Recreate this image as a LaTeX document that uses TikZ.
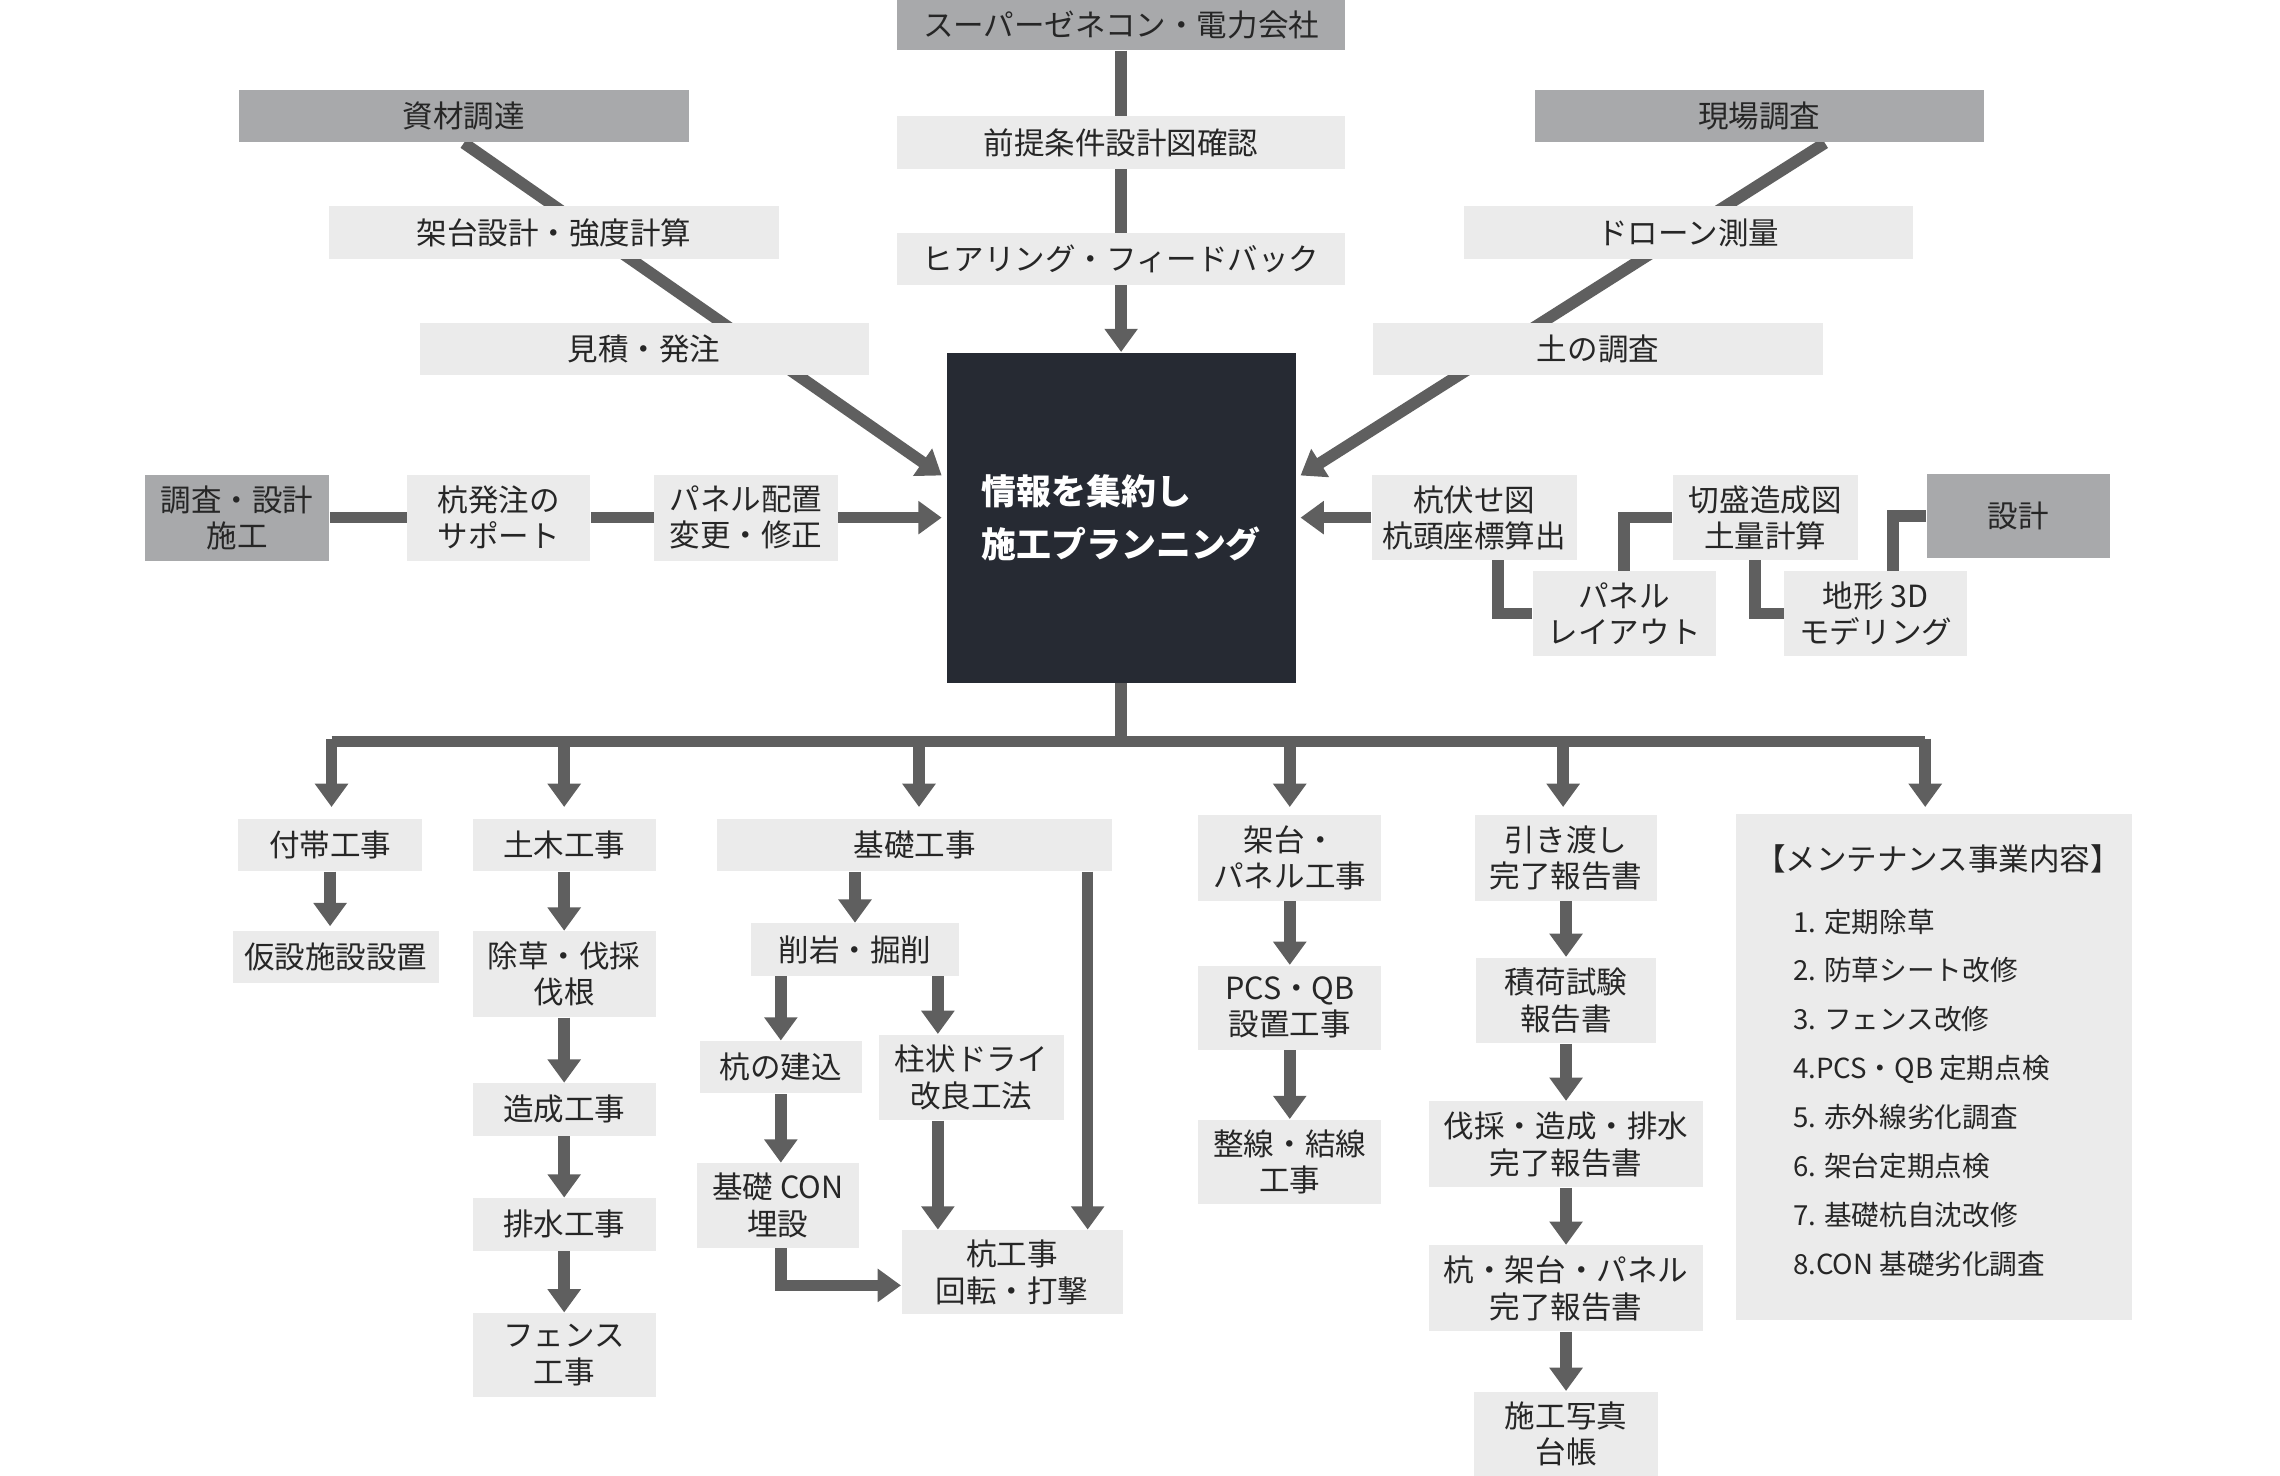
\documentclass[tikz,border=0pt]{standalone}
\usepackage{fontspec}
\setmainfont{Noto Sans CJK JP}
\usetikzlibrary{arrows.meta,calc,backgrounds}
\definecolor{dk}{HTML}{A8A9AB}
\definecolor{lt}{HTML}{EBEBEB}
\definecolor{ln}{HTML}{5F5F5F}
\definecolor{ctr}{HTML}{262A33}
\tikzset{
 bx/.style n args={2}{minimum width=#1*0.5pt,minimum height=#2*0.5pt,inner sep=0pt,align=center,font=\fontsize{10.5}{12.5}\selectfont,text=black!85},
 dbox/.style 2 args={bx={#1}{#2},fill=dk},
 lbox/.style 2 args={bx={#1}{#2},fill=lt},
 con/.style={draw=ln,line width=4pt},
 arr/.style={con,-{Triangle[length=8pt,width=11pt]}},
}
\begin{document}
\begin{tikzpicture}[x=0.5pt,y=-0.5pt]
\useasboundingbox (0,0) rectangle (1568,1015);
% top
\node[dbox={308}{35}] (sg) at (771,17) {スーパーゼネコン・電力会社};
\node[lbox={308}{36}] (zj) at (771,98) {前提条件設計図確認};
\node[lbox={308}{36}] (hr) at (771,178) {ヒアリング・フィードバック};
\node[dbox={309}{36}] (sz) at (319,80) {資材調達};
\node[lbox={309}{36}] (kd) at (381,160) {架台設計・強度計算};
\node[lbox={309}{36}] (mt) at (443,240) {見積・発注};
\node[dbox={309}{36}] (gb) at (1210,80) {現場調査};
\node[lbox={309}{36}] (dr) at (1161,160) {ドローン測量};
\node[lbox={309}{36}] (tc) at (1099,240) {土の調査};
\node[fill=ctr,minimum width=120pt,minimum height=113.5pt,inner sep=0pt] (c) at (771,356) {};
\node[text=white,align=left,font=\fontsize{12}{18}\selectfont\bfseries,anchor=west] at (668,356) {情報を集約し\\施工プランニング};
% middle row
\node[dbox={127}{59}] (cs) at (163,356) {調査・設計\\施工};
\node[lbox={126}{59}] (kh) at (343,356) {杭発注の\\サポート};
\node[lbox={126}{59}] (ph) at (513,356) {パネル配置\\変更・修正};
\node[lbox={141}{58}] (kf) at (1014,356) {杭伏せ図\\杭頭座標算出};
\node[lbox={127}{58}] (km) at (1214,356) {切盛造成図\\土量計算};
\node[dbox={126}{58}] (sk) at (1388,355) {設計};
\node[lbox={126}{58}] (pl) at (1117,422) {パネル\\レイアウト};
\node[lbox={126}{58}] (ck) at (1290,422) {地形 3D\\モデリング};
\begin{scope}[on background layer]
\draw[arr] (sz.south) -- ($(c.west)+(-3,-29)$);
\draw[arr] ($(gb.south)+(45,0)$) -- ($(c.east)+(3,-29)$);
\draw[arr] (sg.south) -- (c.north);
\end{scope}
\draw[con] (cs) -- (kh); \draw[con] (kh) -- (ph);
\draw[arr] (ph) -- ($(c.west)+(-3,0)$);
\draw[arr] (kf) -- ($(c.east)+(3,0)$);
\draw[con] ($(kf.south)+(16,0)$) |- (pl.west);
\draw[con] (pl.north) |- (km.west);
\draw[con] ($(km.south)+(-7,0)$) |- (ck.west);
\draw[con] ($(ck.north)+(12,0)$) |- (sk.west);
% bottom tree
\coordinate (h) at (771,510);
\draw[con] (c.south) -- (h);
\draw[con] (228,510) -- (1324,510);
\foreach \x in {228,388,632,887,1075,1324} \draw[arr] (\x,508) -- (\x,555);
% col1
\node[lbox={126}{36}] (a1) at (227,581) {付帯工事};
\node[lbox={142}{36}] (a2) at (231,658) {仮設施設設置};
\draw[arr] (a1.south -| 227,0) -- (227,637);
% col2
\node[lbox={126}{36}] (b1) at (388,581) {土木工事};
\node[lbox={126}{59}] (b2) at (388,670) {除草・伐採\\伐根};
\node[lbox={126}{36}] (b3) at (388,763) {造成工事};
\node[lbox={126}{36}] (b4) at (388,842) {排水工事};
\node[lbox={126}{58}] (b5) at (388,932) {フェンス\\工事};
\draw[arr] (b1) -- (b2); \draw[arr] (b2) -- (b3); \draw[arr] (b3) -- (b4); \draw[arr] (b4) -- (b5);
% col3
\node[lbox={272}{36}] (k1) at (629,581) {基礎工事};
\node[lbox={143}{36}] (k2) at (588,653) {削岩・掘削};
\node[lbox={111}{36}] (k3) at (537,734) {杭の建込};
\node[lbox={127}{59}] (k4) at (668,741) {柱状ドライ\\改良工法};
\node[lbox={111}{58}] (k5) at (535,829) {基礎 CON\\埋設};
\node[lbox={152}{58}] (k6) at (696,875) {杭工事\\回転・打撃};
\draw[arr] (k1.south -| k2) -- (k2);
\draw[arr] (k1.south -| 748,0) -- (k6.north -| 748,0);
\draw[arr] (k2.south -| k3) -- (k3);
\draw[arr] (k2.south -| 645,0) -- (k4.north -| 645,0);
\draw[arr] (k3) -- (k5.north -| k3);
\draw[arr] (k4.south -| 645,0) -- (k6.north -| 645,0);
\draw[arr] (k5.south -| 537,0) |- (k6.west |- 0,884);
% col4
\node[lbox={126}{59}] (p1) at (887,590) {架台・\\パネル工事};
\node[lbox={126}{58}] (p2) at (887,693) {PCS・QB\\設置工事};
\node[lbox={126}{58}] (p3) at (887,799) {整線・結線\\工事};
\draw[arr] (p1) -- (p2); \draw[arr] (p2) -- (p3);
% col5
\node[lbox={125}{59}] (r1) at (1077,590) {引き渡し\\完了報告書};
\node[lbox={124}{59}] (r2) at (1077,688) {積荷試験\\報告書};
\node[lbox={188}{59}] (r3) at (1077,787) {伐採・造成・排水\\完了報告書};
\node[lbox={188}{59}] (r4) at (1077,886) {杭・架台・パネル\\完了報告書};
\node[lbox={126}{58}] (r5) at (1077,986) {施工写真\\台帳};
\draw[arr] (r1) -- (r2); \draw[arr] (r2) -- (r3); \draw[arr] (r3) -- (r4); \draw[arr] (r4) -- (r5);
% col6
\node[lbox={272}{348}] (m) at (1330,734) {};
\node[anchor=north west,align=left,font=\fontsize{10.5}{16.8}\selectfont,text=black!85] at (1200,574) {【メンテナンス事業内容】};
\node[anchor=north west,align=left,font=\fontsize{9.5}{16.8}\selectfont,text=black!85] at (1226,618) {1. 定期除草\\2. 防草シート改修\\3. フェンス改修\\4.PCS・QB 定期点検\\5. 赤外線劣化調査\\6. 架台定期点検\\7. 基礎杭自沈改修\\8.CON 基礎劣化調査};
\end{tikzpicture}
\end{document}
